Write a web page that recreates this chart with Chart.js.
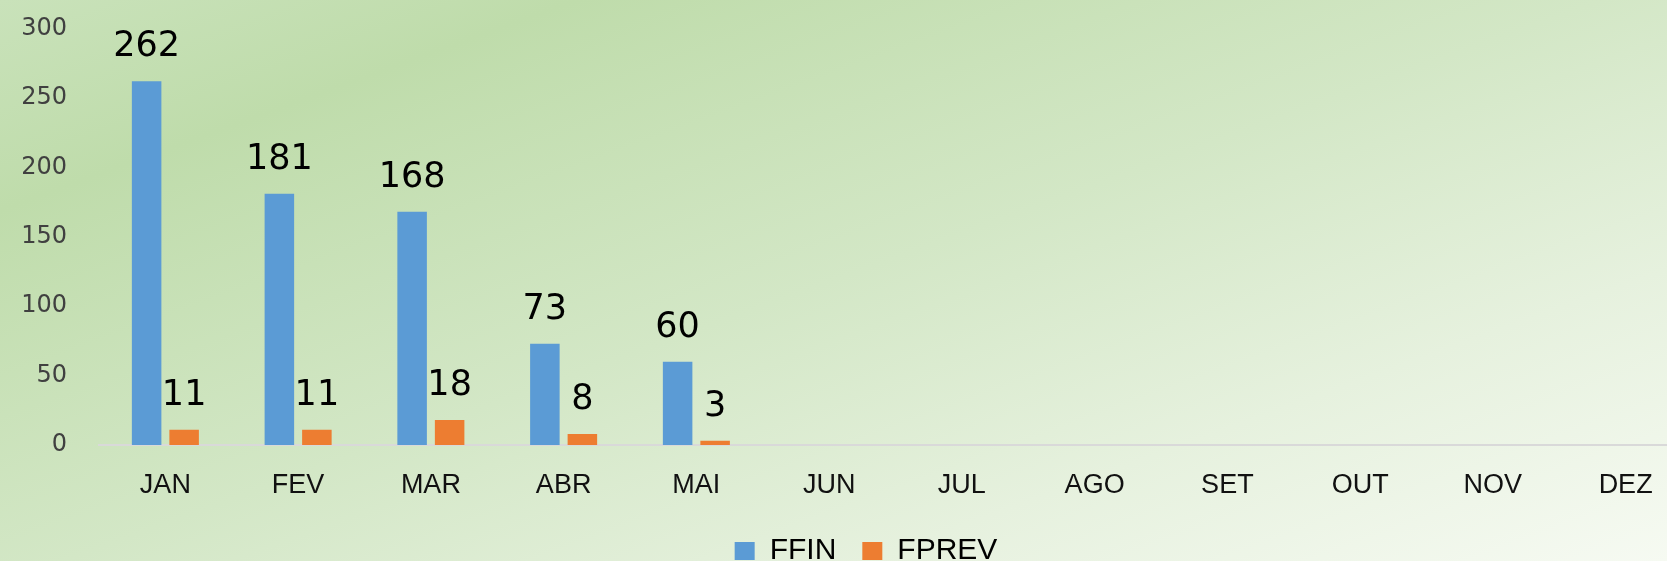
<!DOCTYPE html>
<html>
<head>
<meta charset="utf-8">
<script src="https://cdn.jsdelivr.net/npm/chart.js@4/dist/chart.umd.min.js"></script>
<style>
  html, body { margin: 0; padding: 0; overflow: hidden; width: 1667px; height: 561px; }
  body { background: linear-gradient(160deg, #c9e2ba 0%, #bfdcab 18%, #d3e7c6 50%, #e6f1de 75%, #f6faf2 100%); }
  #wrap { position: absolute; left: 0; top: 0; width: 1732px; height: 568px; }
</style>
</head>
<body>
<div id="wrap"><canvas id="c" width="1732" height="568"></canvas></div>
<script>
const categories = ['JAN', 'FEV', 'MAR', 'ABR', 'MAI', 'JUN', 'JUL', 'AGO', 'SET', 'OUT', 'NOV', 'DEZ'];
const ffin  = [262, 181, 168, 73, 60, null, null, null, null, null, null, null];
const fprev = [11, 11, 18, 8, 3, null, null, null, null, null, null, null];
const yMin = 0, yMax = 300, yStep = 50;

const valueLabels = {
  id: 'valueLabels',
  afterDatasetsDraw(chart) {
    const ctx = chart.ctx;
    ctx.save();
    ctx.font = '35px "DejaVu Sans"';
    ctx.fillStyle = '#000000';
    ctx.textAlign = 'center';
    ctx.textBaseline = 'alphabetic';
    chart.data.datasets.forEach((ds, i) => {
      const meta = chart.getDatasetMeta(i);
      meta.data.forEach((el, j) => {
        const v = ds.data[j];
        if (v === null || v === undefined) return;
        ctx.fillText(String(v), el.x, el.y - 25);
      });
    });
    ctx.restore();
  }
};

const legendShift = {
  id: 'legendShift',
  afterLayout(chart) {
    if (chart.legend) {
      chart.legend.left += 20; chart.legend.right += 20;
      chart.legend.top += 8; chart.legend.bottom += 8;
    }
  }
};

new Chart(document.getElementById('c'), {
  type: 'bar',
  data: {
    labels: categories,
    datasets: [
      { label: 'FFIN', data: ffin, backgroundColor: '#5b9bd5', categoryPercentage: 0.565, barPercentage: 0.787 },
      { label: 'FPREV', data: fprev, backgroundColor: '#ed7d31', categoryPercentage: 0.565, barPercentage: 0.787 }
    ]
  },
  options: {
    responsive: false,
    animation: false,
    layout: { padding: { left: 0, right: 40, top: 0, bottom: 0 } },
    plugins: {
      legend: {
        position: 'bottom',
        labels: {
          boxWidth: 20, boxHeight: 18, padding: 26,
          color: '#000000',
          font: { family: '"Liberation Sans"', size: 30 }
        }
      },
      tooltip: { enabled: false }
    },
    scales: {
      x: {
        grid: { display: false, drawTicks: false },
        border: { display: true, color: '#d9d9d9', width: 2 },
        ticks: { color: '#111111', padding: 24, font: { family: '"Liberation Sans"', size: 27 } },
        afterFit: (s) => { s.height = 57; }
      },
      y: {
        min: yMin, max: yMax,
        grid: { display: false, drawTicks: true, tickLength: 18 },
        border: { display: false },
        ticks: { stepSize: yStep, color: '#404040', padding: 14, font: { family: '"DejaVu Sans"', size: 24 } },
        afterFit: (s) => { s.width = 99; }
      }
    }
  },
  plugins: [valueLabels, legendShift]
});
</script>
</body>
</html>
